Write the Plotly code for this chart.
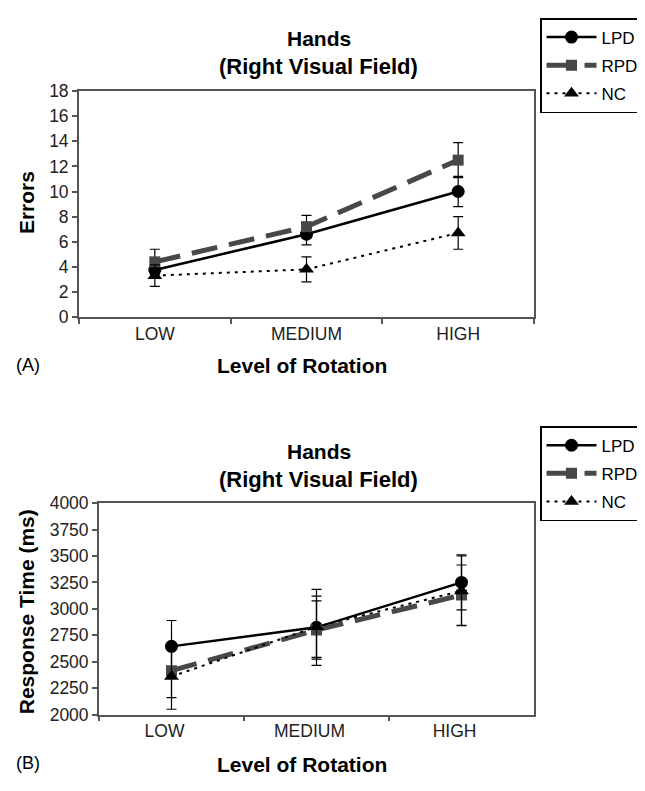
import plotly.graph_objects as go

# The page body has an 8px margin, so the figure is sized to fit inside the window
OFF = 8
W, H = 645 - OFF, 791 - 2 * OFF

levels = ["LOW", "MEDIUM", "HIGH"]
groups = ["LPD", "RPD", "NC"]

# Panel A: Errors
err_lpd = [3.75, 6.6, 10.0]
err_rpd = [4.4, 7.2, 12.5]
err_nc = [3.3, 3.8, 6.7]
err_lpd_se = [0.6, 0.85, 1.2]
err_rpd_se = [1.0, 0.9, 1.4]
err_nc_se = [0.85, 1.0, 1.3]

# Panel B: Response time (ms)
rt_lpd = [2645, 2825, 3250]
rt_rpd = [2415, 2800, 3130]
rt_nc = [2360, 2830, 3170]
rt_lpd_se = [245, 360, 260]
rt_rpd_se = [255, 275, 285]
rt_nc_se = [310, 290, 330]

yticks_a = list(range(0, 19, 2))
yticks_b = list(range(2000, 4001, 250))

FONT = "Liberation Sans, Arial, sans-serif"


def px_x(p):
    return (p - OFF) / W


def px_y(p):
    return 1 - (p - OFF) / H


styles = {
    "LPD": dict(color="black", width=2.5, dash="solid", symbol="circle", msize=13, mcolor="black"),
    "RPD": dict(color="#484848", width=5, dash="26px,12px", symbol="square", msize=11, mcolor="#484848"),
    "NC": dict(color="black", width=2, dash="3px,5px", symbol="triangle-up", msize=13, mcolor="black"),
}

fig = go.Figure()


def add_series(name, vals, se, xaxis, yaxis, legend, grp):
    s = styles[name]
    fig.add_trace(go.Scatter(
        x=levels, y=vals, name=name, mode="lines+markers",
        xaxis=xaxis, yaxis=yaxis, legend=legend, legendgroup=grp,
        line=dict(color=s["color"], width=s["width"], dash=s["dash"]),
        marker=dict(symbol=s["symbol"], size=s["msize"], color=s["mcolor"]),
        error_y=dict(type="data", array=se, visible=True, color="black", thickness=1.2, width=5),
    ))


add_series("LPD", err_lpd, err_lpd_se, "x", "y", "legend", "a1")
add_series("RPD", err_rpd, err_rpd_se, "x", "y", "legend", "a2")
add_series("NC", err_nc, err_nc_se, "x", "y", "legend", "a3")

add_series("LPD", rt_lpd, rt_lpd_se, "x2", "y2", "legend2", "b1")
add_series("RPD", rt_rpd, rt_rpd_se, "x2", "y2", "legend2", "b2")
add_series("NC", rt_nc, rt_nc_se, "x2", "y2", "legend2", "b3")

axis_line = dict(showline=True, linecolor="#555555", linewidth=1.8, mirror=True,
                 showgrid=False, zeroline=False, ticks="outside", tickcolor="#555555",
                 ticklen=5, tickwidth=1.5,
                 tickfont=dict(family=FONT, size=17.5, color="#222222"))

legend_common = dict(bgcolor="white", bordercolor="black", borderwidth=1.5,
                     font=dict(family=FONT, size=17, color="black"),
                     xanchor="right", yanchor="top", itemwidth=50, tracegroupgap=3)

fig.update_layout(
    width=W, height=H,
    margin=dict(l=0, r=0, t=0, b=0),
    paper_bgcolor="white", plot_bgcolor="white",
    showlegend=True,
    xaxis=dict(domain=[px_x(79), px_x(534)], anchor="y", type="category",
               range=[-0.5, 2.5], tickson="boundaries", **axis_line),
    yaxis=dict(domain=[px_y(315), px_y(83)], anchor="x", range=[0, 18],
               tickvals=yticks_a, **axis_line),
    xaxis2=dict(domain=[px_x(99), px_x(534)], anchor="y2", type="category",
                range=[-0.5, 2.5], tickson="boundaries", ticklabelshift=-7, **axis_line),
    yaxis2=dict(domain=[px_y(723), px_y(506)], anchor="x2", range=[2000, 4000],
                tickvals=yticks_b, **axis_line),
    legend=dict(x=px_x(644), y=min(1.0, px_y(8)), **legend_common),
    legend2=dict(x=px_x(644), y=px_y(427), **legend_common),
)


def ann(text, x, y, size, bold=False, angle=0):
    fig.add_annotation(
        text=f"<b>{text}</b>" if bold else text,
        x=px_x(x), y=px_y(y), xref="paper", yref="paper",
        xanchor="center", yanchor="middle", showarrow=False, textangle=angle,
        font=dict(family=FONT, size=size, color="black"),
    )


# Panel A texts
ann("Hands", 319, 29, 21, bold=True)
ann("(Right Visual Field)", 318, 58, 22, bold=True)
ann("Errors", 26, 198, 21, bold=True, angle=-90)
ann("Level of Rotation", 302, 365, 21, bold=True)
ann("(A)", 28, 364, 18)

# Panel B texts
ann("Hands", 319, 453, 21, bold=True)
ann("(Right Visual Field)", 318, 482, 22, bold=True)
ann("Response Time (ms)", 26, 618, 21, bold=True, angle=-90)
ann("Level of Rotation", 302, 774, 21, bold=True)
ann("(B)", 28, 773, 18)

fig.write_html("out.html")
